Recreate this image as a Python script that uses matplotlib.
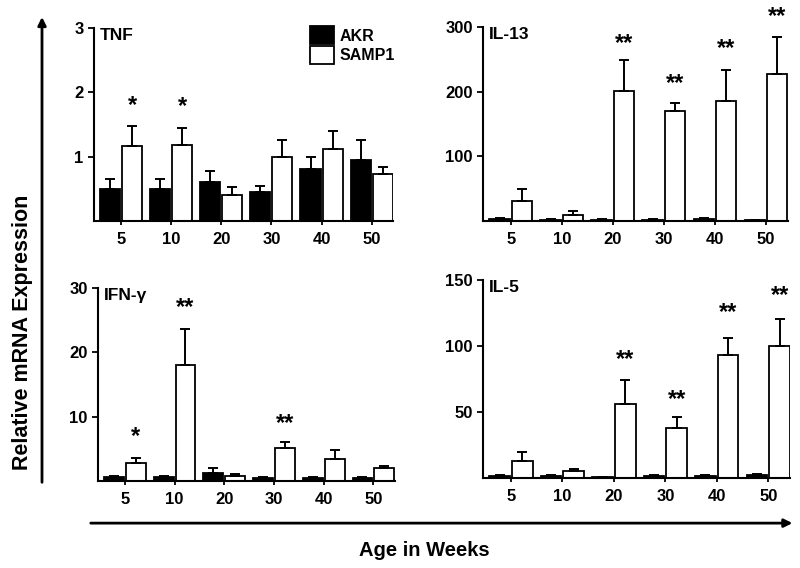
import matplotlib
matplotlib.use("Agg")
import matplotlib.pyplot as plt
import numpy as np

plt.rcParams['font.family'] = ['Liberation Sans', 'DejaVu Sans']
plt.rcParams['font.weight'] = 'bold'

weeks = ['5', '10', '20', '30', '40', '50']

# TNF
tnf_akr = [0.50, 0.50, 0.61, 0.45, 0.80, 0.94]
tnf_akr_err = [0.15, 0.15, 0.16, 0.10, 0.19, 0.31]
tnf_samp = [1.17, 1.18, 0.40, 1.00, 1.12, 0.73]
tnf_samp_err = [0.30, 0.27, 0.13, 0.25, 0.28, 0.11]
tnf_stars = ['*', '*', '', '', '', '']
tnf_star_y = [1.80, 1.78, 0, 0, 0, 0]

# IL-13
il13_akr = [3, 2, 2, 2, 3, 1.5]
il13_akr_err = [1, 1, 1, 1, 1, 0.5]
il13_samp = [31, 9, 201, 170, 185, 228]
il13_samp_err = [18, 6, 48, 12, 49, 57]
il13_stars = ['', '', '**', '**', '**', '**']
il13_star_y = [0, 0, 274, 212, 266, 316]

# IFN-gamma
ifn_akr = [0.6, 0.6, 1.3, 0.5, 0.5, 0.5]
ifn_akr_err = [0.2, 0.2, 0.8, 0.1, 0.1, 0.1]
ifn_samp = [2.8, 18.0, 0.8, 5.1, 3.5, 2.1]
ifn_samp_err = [0.8, 5.7, 0.3, 1.0, 1.4, 0.3]
ifn_stars = ['*', '**', '', '**', '', '']
ifn_star_y = [7.0, 27.0, 0, 9.0, 0, 0]

# IL-5
il5_akr = [1.5, 1.5, 0.8, 1.5, 1.5, 2.5]
il5_akr_err = [0.5, 0.5, 0.2, 0.5, 0.5, 0.7]
il5_samp = [12.5, 5.0, 56, 37.5, 93, 100]
il5_samp_err = [7.0, 2.0, 18, 8.5, 13, 20]
il5_stars = ['', '', '**', '**', '**', '**']
il5_star_y = [0, 0, 90, 59, 125, 138]

fig = plt.figure(figsize=(8, 5.68), dpi=100)

panels = [
    ([0.1175, 0.611, 0.374, 0.340], 'TNF', tnf_akr, tnf_akr_err, tnf_samp, tnf_samp_err,
     tnf_stars, tnf_star_y, 3, [1, 2, 3]),
    ([0.604, 0.611, 0.381, 0.3415], 'IL-13', il13_akr, il13_akr_err, il13_samp, il13_samp_err,
     il13_stars, il13_star_y, 300, [100, 200, 300]),
    ([0.1225, 0.153, 0.371, 0.340], 'IFN-γ', ifn_akr, ifn_akr_err, ifn_samp, ifn_samp_err,
     ifn_stars, ifn_star_y, 30, [10, 20, 30]),
    ([0.604, 0.1585, 0.384, 0.349], 'IL-5', il5_akr, il5_akr_err, il5_samp, il5_samp_err,
     il5_stars, il5_star_y, 150, [50, 100, 150]),
]

x = np.arange(len(weeks))
w = 0.40
for i, (rect, name, akr, akr_e, samp, samp_e, stars, star_y, ymax, yticks) in enumerate(panels):
    ax = fig.add_axes(rect)
    zeros = np.zeros(len(x))
    ax.bar(x - 0.22, akr, w, color='black', edgecolor='black', linewidth=1.3,
           yerr=[zeros, akr_e], capsize=3.5, error_kw=dict(elinewidth=1.4, capthick=1.4),
           label='AKR')
    ax.bar(x + 0.22, samp, w, color='white', edgecolor='black', linewidth=1.3,
           yerr=[zeros, samp_e], capsize=3.5, error_kw=dict(elinewidth=1.4, capthick=1.4),
           label='SAMP1')
    for xi, s, sy in zip(x, stars, star_y):
        if s:
            ax.text(xi + 0.22, sy, s, ha='center', va='center', fontsize=17,
                    fontweight='bold', clip_on=False)
    ax.set_xlim(-0.54, 5.43)
    ax.set_ylim(0, ymax)
    ax.set_yticks(yticks)
    ax.set_xticks(x)
    ax.set_xticklabels(weeks)
    ax.spines['top'].set_visible(False)
    ax.spines['right'].set_visible(False)
    ax.spines['left'].set_linewidth(1.5)
    ax.spines['bottom'].set_linewidth(1.5)
    ax.tick_params(axis='both', labelsize=12, width=1.3, length=4)
    ax.tick_params(axis='x', length=3, pad=5)
    ax.text(0.02, 1.0, name, transform=ax.transAxes, ha='left', va='top',
            fontsize=12.5, fontweight='bold')
    if i == 0:
        ax.legend(loc='upper left', bbox_to_anchor=(0.70, 1.04), frameon=False,
                  fontsize=11.5, handlelength=1.5, handleheight=1.3,
                  labelspacing=0.15, handletextpad=0.35, borderaxespad=0)

# big arrows
fig.add_artist(matplotlib.patches.FancyArrowPatch(
    (0.0525, 0.146), (0.0525, 0.975), transform=fig.transFigure,
    arrowstyle='-|>', mutation_scale=12, lw=2, color='black'))
fig.add_artist(matplotlib.patches.FancyArrowPatch(
    (0.11, 0.079), (0.994, 0.079), transform=fig.transFigure,
    arrowstyle='-|>', mutation_scale=12, lw=2, color='black'))

fig.text(0.028, 0.415, 'Relative mRNA Expression', rotation=90, ha='center', va='center',
         fontsize=15.5, fontweight='bold')
fig.text(0.531, 0.030, 'Age in Weeks', ha='center', va='center', fontsize=14.5,
         fontweight='bold')

fig.savefig('out.png', dpi=100)
